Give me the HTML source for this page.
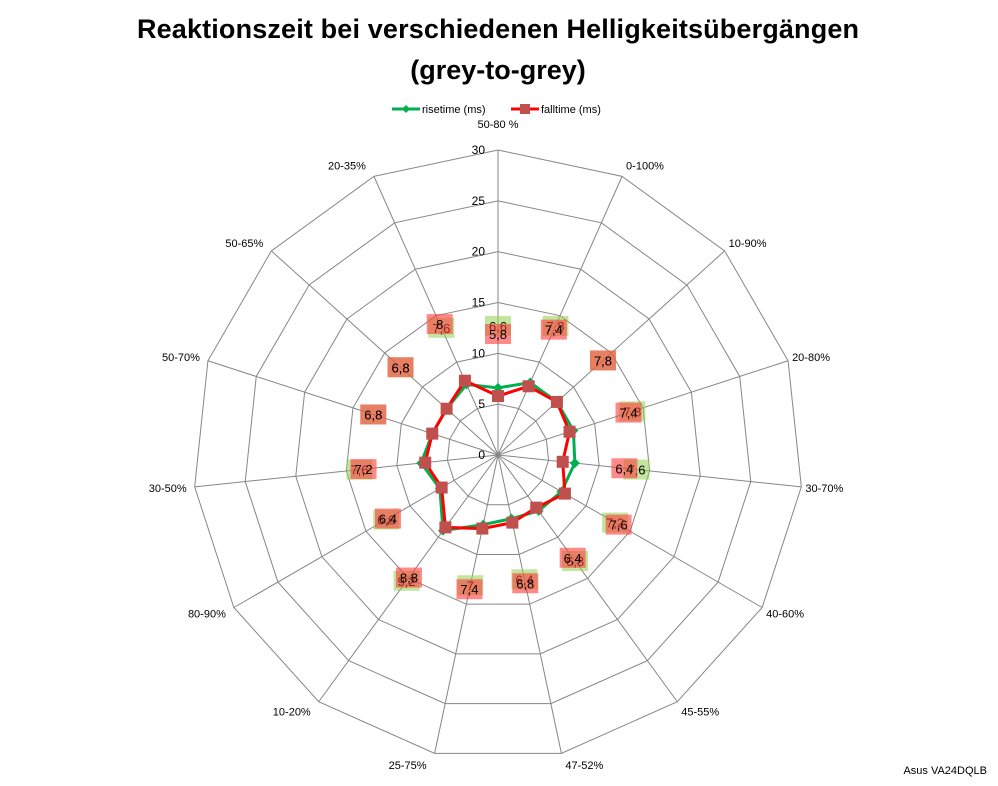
<!DOCTYPE html>
<html><head><meta charset="utf-8"><style>
body{margin:0;background:#fff;}
svg{display:block;font-family:"Liberation Sans",sans-serif;}
</style></head><body>
<svg id="chart" width="998" height="786" viewBox="0 0 998 786">
<text x="498" y="38" text-anchor="middle" font-size="27" font-weight="bold" textLength="722">Reaktionszeit bei verschiedenen Helligkeitsübergängen</text>
<text x="498" y="79" text-anchor="middle" font-size="27" font-weight="bold">(grey-to-grey)</text>
<g>
<g>
<line x1="392" y1="109" x2="420" y2="109" stroke="#00b050" stroke-width="3"/><path d="M406 105 L410 109 L406 113 L402 109Z" fill="#00b050"/>
<text x="422" y="113" font-size="11">risetime (ms)</text></g>
<g>
<line x1="511" y1="109" x2="539" y2="109" stroke="#ff0000" stroke-width="3"/><rect x="520" y="104" width="10" height="10" fill="#c0504d"/>
<text x="541" y="113" font-size="11">falltime (ms)</text></g>
</g>
<g id="grid"></g><g id="series"></g><g id="labels"></g>
<text x="987" y="774" text-anchor="end" font-size="11">Asus VA24DQLB</text>
</svg>
<script>
const categories=["50-80 %","0-100%","10-90%","20-80%","30-70%","40-60%","45-55%","47-52%","25-75%","10-20%","80-90%","30-50%","50-70%","50-65%","20-35%"];
const risetime=[6.6,7.8,7.8,7.8,7.6,7.2,6.8,6.4,7,9.2,6.6,7.6,6.8,6.8,7.6];
const falltime=[5.8,7.4,7.8,7.4,6.4,7.6,6.4,6.8,7.4,8.8,6.4,7.2,6.8,6.8,8];
const ticks=[0,5,10,15,20,25,30];
const NS="http://www.w3.org/2000/svg";
const cx=498,cy=455,R=305,maxV=30;
const n=categories.length;
function ang(i){return -Math.PI/2+i*2*Math.PI/n;}
function pt(i,v){const r=v/maxV*R;return [cx+r*Math.cos(ang(i)),cy+r*Math.sin(ang(i))];}
function mk(tag,attrs,parent){const e=document.createElementNS(NS,tag);for(const k in attrs)e.setAttribute(k,attrs[k]);parent.appendChild(e);return e;}
const grid=document.getElementById('grid'),ser=document.getElementById('series'),lab=document.getElementById('labels');
ticks.forEach(t=>{if(t===0)return;
 const p=mk('polygon',{points:categories.map((c,i)=>pt(i,t).join(',')).join(' '),fill:'none',stroke:'#868686','stroke-width':1},grid);
 
 });
categories.forEach((c,i)=>{const e=pt(i,maxV);
 const l=mk('line',{x1:cx,y1:cy,x2:e[0],y2:e[1],stroke:'#868686','stroke-width':1},grid);
 
 
 const a=ang(i),co=Math.cos(a),si=Math.sin(a);
 let x,y,anc;
 if(Math.abs(co)<0.1){anc='middle';x=e[0];y=e[1]-22;}
 else{anc=co>0?'start':'end';x=e[0]+(co>0?4:-8);y=e[1]+si*12+4;}
 const t=mk('text',{x:x,y:y,'text-anchor':anc,'font-size':11},lab);
 t.textContent=c;
 
 });
ticks.forEach(t=>{const p=pt(0,t);
 const e=mk('text',{x:p[0]-13,y:p[1]+4,'text-anchor':'end','font-size':12},lab);
 e.textContent=t;
 
 });
function drawSeries(vals,color,markerColor,shape,labelBg,name){
 const pts=vals.map((v,i)=>pt(i,v));
 const pl=mk('polygon',{points:pts.map(p=>p.join(',')).join(' '),fill:'none',stroke:color,'stroke-width':3},ser);
 
 
 vals.forEach((v,i)=>{const p=pts[i];let m;
  if(shape==='sq')m=mk('rect',{x:p[0]-6,y:p[1]-6,width:12,height:12,fill:markerColor},ser);
  else m=mk('path',{d:`M${p[0]} ${p[1]-5}L${p[0]+5} ${p[1]}L${p[0]} ${p[1]+5}L${p[0]-5} ${p[1]}Z`,fill:markerColor},ser);
  
  
  const r=v/maxV*R+62,a=ang(i),lx=cx+r*Math.cos(a),ly=cy+r*Math.sin(a);
  const b=mk('rect',{x:lx-13,y:ly-10,width:26,height:20,fill:labelBg},lab);
  
  
  const t=mk('text',{x:lx,y:ly+5,'text-anchor':'middle','font-size':13},lab);
  t.textContent=String(v).replace('.',',');
  
  });
}
drawSeries(risetime,'#00b050','#00b050','dia','rgba(146,208,80,0.55)','risetime');
drawSeries(falltime,'#ff0000','#c0504d','sq','rgba(255,60,60,0.6)','falltime');
</script>
</body></html>
